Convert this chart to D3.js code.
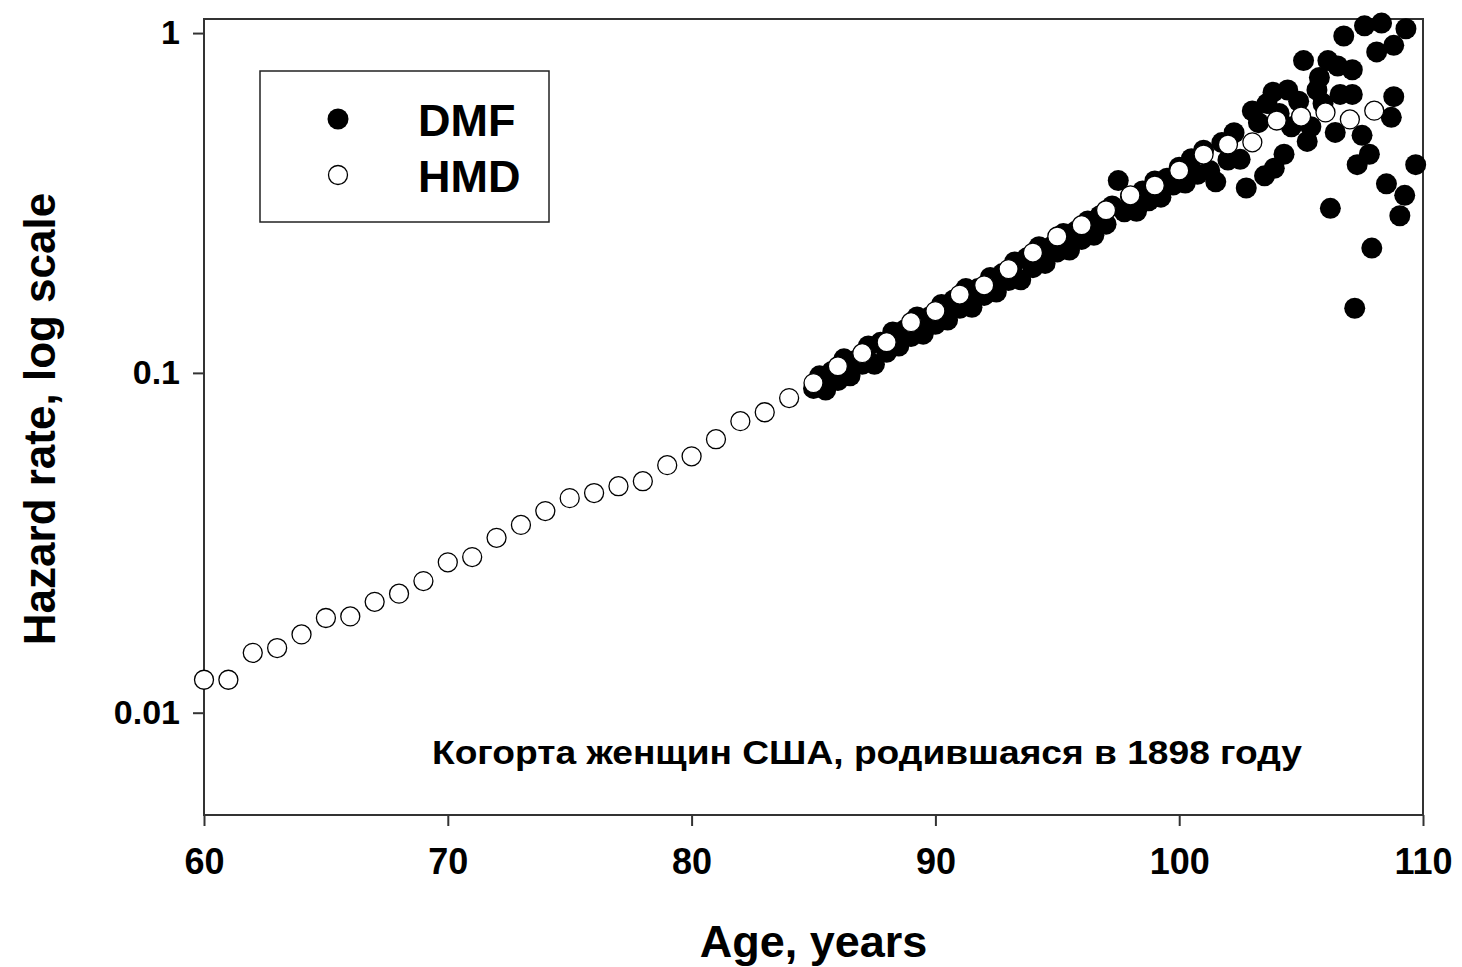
<!DOCTYPE html>
<html>
<head>
<meta charset="utf-8">
<script src="https://cdn.jsdelivr.net/npm/d3@7"></script>
<style>
  body { margin: 0; background: #fff; }
  svg { display: block; font-family: "Liberation Sans", Arial, sans-serif; font-weight: bold; }
</style>
</head>
<body>
<div id="chart"></div>
<script>
// HMD, yearly
const hmdAge = [60,61,62,63,64,65,66,67,68,69,70,71,72,73,74,75,76,77,78,79,80,81,82,83,84,
                85,86,87,88,89,90,91,92,93,94,95,96,97,98,99,100,101,102,103,104,105,106,107,108];
const hmdRate = [0.0125,0.0125,0.0150,0.0155,0.0170,0.0190,0.0192,0.0212,0.0224,0.0244,
                 0.0277,0.0287,0.0327,0.0357,0.0392,0.0428,0.0443,0.0464,0.0480,0.0535,
                 0.0568,0.0638,0.0721,0.0766,0.0843,
                 0.0933,0.1046,0.1143,0.1231,0.141,0.152,0.170,0.181,0.202,0.226,
                 0.252,0.272,0.301,0.333,0.356,0.394,0.439,0.470,0.477,0.553,
                 0.568,0.584,0.557,0.591];

// DMF, quarterly up to 103, then scattered points
const dmfAge = [85,85.25,85.5,85.75,86,86.25,86.5,86.75,87,87.25,87.5,87.75,
                88,88.25,88.5,88.75,89,89.25,89.5,89.75,90,90.25,90.5,90.75,
                91,91.25,91.5,91.75,92,92.25,92.5,92.75,93,93.25,93.5,93.75,
                94,94.25,94.5,94.75,95,95.25,95.5,95.75,96,96.25,96.5,96.75,
                97,97.25,97.5,97.75,98,98.25,98.5,98.75,99,99.25,99.5,99.75,
                100,100.25,100.5,100.75,101,101.25,101.5,101.75,102,102.25,102.5,102.75,
                103,103.25,103.5,103.6,103.85,103.9,104.1,104.3,104.45,104.6,104.9,
                105.1,105.25,105.4,105.65,105.75,105.9,106.1,106.2,106.4,106.5,106.6,106.75,
                107.1,107.1,107.2,107.3,107.5,107.6,107.8,107.9,
                108.1,108.3,108.5,108.7,108.8,108.8,109.05,109.25,109.3,109.7];
const dmfRate = [0.090,0.098,0.089,0.101,0.095,0.110,0.098,0.109,0.106,0.120,0.106,0.123,
                 0.115,0.132,0.120,0.134,0.128,0.146,0.130,0.146,0.139,0.159,0.143,0.164,
                 0.155,0.177,0.156,0.177,0.169,0.191,0.173,0.196,0.187,0.212,0.188,0.218,
                 0.204,0.235,0.210,0.235,0.227,0.257,0.230,0.261,0.247,0.280,0.254,0.290,
                 0.274,0.310,0.368,0.298,0.330,0.299,0.343,0.321,0.367,0.329,0.374,0.357,
                 0.403,0.362,0.427,0.384,0.452,0.394,0.365,0.476,0.423,0.509,0.425,0.350,
                 0.590,0.545,0.380,0.620,0.670,0.400,0.580,0.440,0.680,0.530,0.630,
                 0.830,0.480,0.530,0.680,0.740,0.620,0.830,0.305,0.510,0.800,0.660,0.980,
                 0.780,0.660,0.155,0.410,0.500,1.050,0.440,0.233,
                 0.880,1.070,0.360,0.565,0.650,0.920,0.290,0.333,1.030,0.410];

const xTicks = [60,70,80,90,100,110];
const yTicks = [0.01,0.1,1];
const yTickLabels = ["0.01","0.1","1"];
const legendItems = ["DMF","HMD"];
const note = "Когорта женщин США, родившаяся в 1898 году";

const W = 1462, H = 967;
const pLeft = 204, pRight = 1423, pTop = 19, pBottom = 815;

const svg = d3.select("#chart").append("svg")
    .attr("width",W)
    .attr("height",H);

const x = d3.scaleLinear().domain([60,110]).range([pLeft,pRight]);
const y = d3.scaleLog().domain([0.005,1.1]).range([pBottom,pTop]);

// frame
svg.append("rect")
    .attr("x",pLeft).attr("y",pTop)
    .attr("width",pRight-pLeft).attr("height",pBottom-pTop)
    .attr("fill","none").attr("stroke","#333").attr("stroke-width",2);

const xAxis = svg.append("g")
    .attr("transform",`translate(0,${pBottom})`)
    .call(d3.axisBottom(x).tickValues(xTicks).tickSize(11).tickPadding(22).tickFormat(d3.format("d")));
xAxis.select(".domain").remove();
xAxis.selectAll("line").attr("stroke","#333").attr("stroke-width",2);
xAxis.selectAll("text").attr("font-size",36).attr("font-family","Liberation Sans, Arial").attr("font-weight","bold").attr("fill","#000");

const yAxis = svg.append("g")
    .attr("transform",`translate(${pLeft},0)`)
    .call(d3.axisLeft(y).tickValues(yTicks).tickSize(11).tickPadding(13)
        .tickFormat((d,i)=>yTickLabels[i]));
yAxis.select(".domain").remove();
yAxis.selectAll("line").attr("stroke","#333").attr("stroke-width",2);
yAxis.selectAll("text").attr("font-size",34).attr("font-family","Liberation Sans, Arial").attr("font-weight","bold").attr("fill","#000");

// axis titles
svg.append("text")
    .attr("x",(pLeft+pRight)/2).attr("y",957)
    .attr("text-anchor","middle").attr("font-size",45)
    .text("Age, years");

svg.append("text")
    .attr("transform",`translate(55,${(pTop+pBottom)/2 + 2}) rotate(-90)`)
    .attr("text-anchor","middle").attr("font-size",44)
    .text("Hazard rate, log scale");

// points
svg.append("g").selectAll("circle")
    .data(dmfAge.map((a,i)=>[a,dmfRate[i]]))
    .enter().append("circle")
    .attr("cx",d=>x(d[0])).attr("cy",d=>y(d[1]))
    .attr("r",10.5).attr("fill","#000");

svg.append("g").selectAll("circle")
    .data(hmdAge.map((a,i)=>[a,hmdRate[i]]))
    .enter().append("circle")
    .attr("cx",d=>x(d[0])).attr("cy",d=>y(d[1]))
    .attr("r",9.5).attr("fill","#fff").attr("stroke","#000").attr("stroke-width",1.3);

// note
svg.append("text")
    .attr("x",867).attr("y",764)
    .attr("text-anchor","middle").attr("font-size",34)
    .attr("textLength",870).attr("lengthAdjust","spacingAndGlyphs")
    .text(note);

// legend
const lg = svg.append("g");
lg.append("rect")
    .attr("x",260).attr("y",71).attr("width",289).attr("height",151)
    .attr("fill","#fff").attr("stroke","#222").attr("stroke-width",1.5);
lg.append("circle").attr("cx",338).attr("cy",119).attr("r",10.5).attr("fill","#000");
lg.append("circle").attr("cx",338).attr("cy",175).attr("r",9.5)
    .attr("fill","#fff").attr("stroke","#000").attr("stroke-width",1.3);
lg.selectAll("text.lab").data(legendItems).enter().append("text")
    .attr("class","lab")
    .attr("x",418).attr("y",(d,i)=>136+i*56)
    .attr("font-size",45)
    .text(d=>d);
</script>
</body>
</html>
